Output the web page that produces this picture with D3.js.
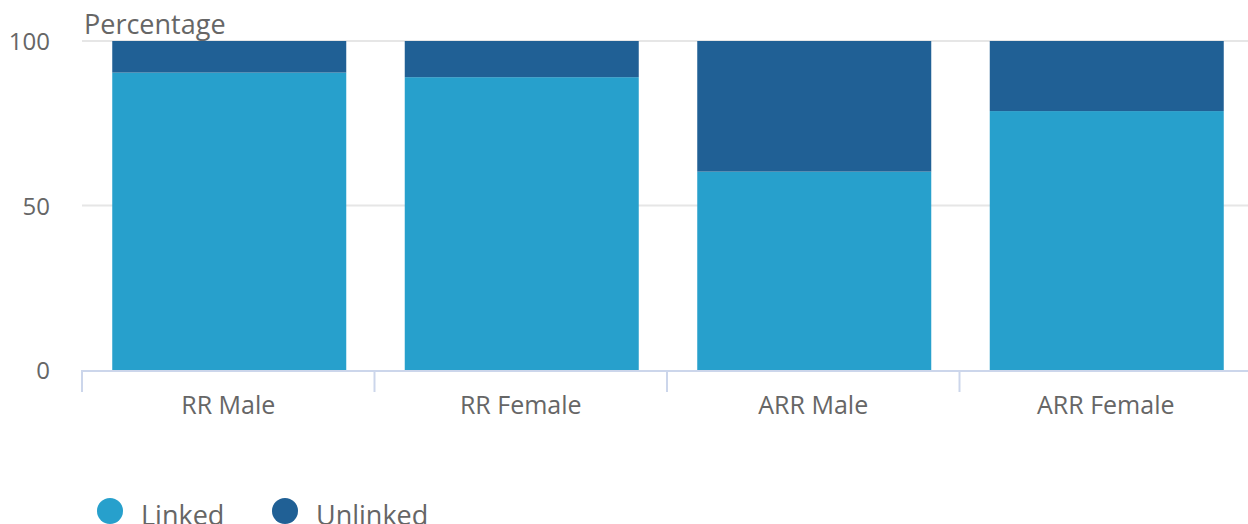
<!DOCTYPE html>
<html>
<head>
<meta charset="utf-8">
<script src="https://cdn.jsdelivr.net/npm/d3@7"></script>
<style>
  body { margin: 0; background: #fff; }
  svg { display: block; font-family: "Open Sans", sans-serif; }
</style>
</head>
<body>
<div class="container"></div>
<script>
const categories = ["RR Male", "RR Female", "ARR Male", "ARR Female"]
const linked = [90.4, 89.0, 60.3, 78.7]
const unlinked = [9.6, 11.0, 39.7, 21.3]
const seriesNames = ["Linked", "Unlinked"]
const colors = ["#27a0cc", "#206095"]
const yTicks = [0, 50, 100]

const w = 1248
const h = 524
const plotLeft = 82
const plotRight = 1252
const plotTop = 41
const plotBottom = 370

const svg = d3.select(".container")
  .append("svg")
  .attr("width", w)
  .attr("height", h)

const xScale = d3.scaleBand()
  .domain(categories)
  .range([plotLeft, plotRight])

const yScale = d3.scaleLinear()
  .domain([0, 100])
  .range([plotBottom, plotTop])

// gridlines
svg.append("g")
  .selectAll("line")
  .data(yTicks.filter(d => d > 0))
  .enter()
  .append("line")
  .attr("x1", plotLeft)
  .attr("x2", w)
  .attr("y1", d => yScale(d))
  .attr("y2", d => yScale(d))
  .attr("stroke", "#e6e6e6")
  .attr("stroke-width", 2)

// y labels
svg.append("g")
  .selectAll("text")
  .data(yTicks)
  .enter()
  .append("text")
  .attr("x", 50)
  .attr("y", d => yScale(d) + 9)
  .attr("text-anchor", "end")
  .attr("fill", "#666")
  .style("font-size", "24px")
  .text(d => d)

svg.append("text")
  .attr("x", 84)
  .attr("y", 34)
  .attr("fill", "#666")
  .style("font-size", "27px")
  .text("Percentage")

// stacked bars
const rows = categories.map((c, i) => ({ cat: c, Linked: linked[i], Unlinked: unlinked[i] }))
const stacked = d3.stack().keys(seriesNames)(rows)
const barW = xScale.bandwidth() * 0.8

svg.append("g")
  .selectAll("g")
  .data(stacked)
  .enter()
  .append("g")
  .attr("fill", (d, i) => colors[i])
  .selectAll("rect")
  .data(d => d)
  .enter()
  .append("rect")
  .attr("x", d => xScale(d.data.cat) + (xScale.bandwidth() - barW) / 2 + 1)
  .attr("y", d => yScale(d[1]))
  .attr("width", barW)
  .attr("height", d => yScale(d[0]) - yScale(d[1]))

// x axis
const xAxis = d3.axisBottom(xScale).tickSize(0).tickPadding(26)
const gx = svg.append("g")
  .attr("transform", "translate(0," + plotBottom + ")")
  .call(xAxis)
gx.select(".domain").remove()
gx.selectAll("text")
  .attr("fill", "#666")
  .style("font-size", "25px")
  .style("font-family", "Open Sans, sans-serif")

gx.append("line")
  .attr("x1", plotLeft)
  .attr("x2", w)
  .attr("y1", 1)
  .attr("y2", 1)
  .attr("stroke", "#ccd6eb")
  .attr("stroke-width", 2)

gx.selectAll(".boundary")
  .data(categories)
  .enter()
  .append("line")
  .attr("class", "boundary")
  .attr("x1", d => xScale(d))
  .attr("x2", d => xScale(d))
  .attr("y1", 0)
  .attr("y2", 22)
  .attr("stroke", "#ccd6eb")
  .attr("stroke-width", 2)

// legend
const legend = svg.append("g")
  .selectAll("g")
  .data(seriesNames)
  .enter()
  .append("g")
  .attr("transform", (d, i) => "translate(" + (110 + i * 175) + ",511)")
legend.append("circle")
  .attr("r", 13)
  .attr("fill", (d, i) => colors[i])
legend.append("text")
  .attr("x", 31)
  .attr("y", 14)
  .attr("fill", "#666")
  .style("font-size", "27px")
  .text(d => d)
</script>
</body>
</html>
